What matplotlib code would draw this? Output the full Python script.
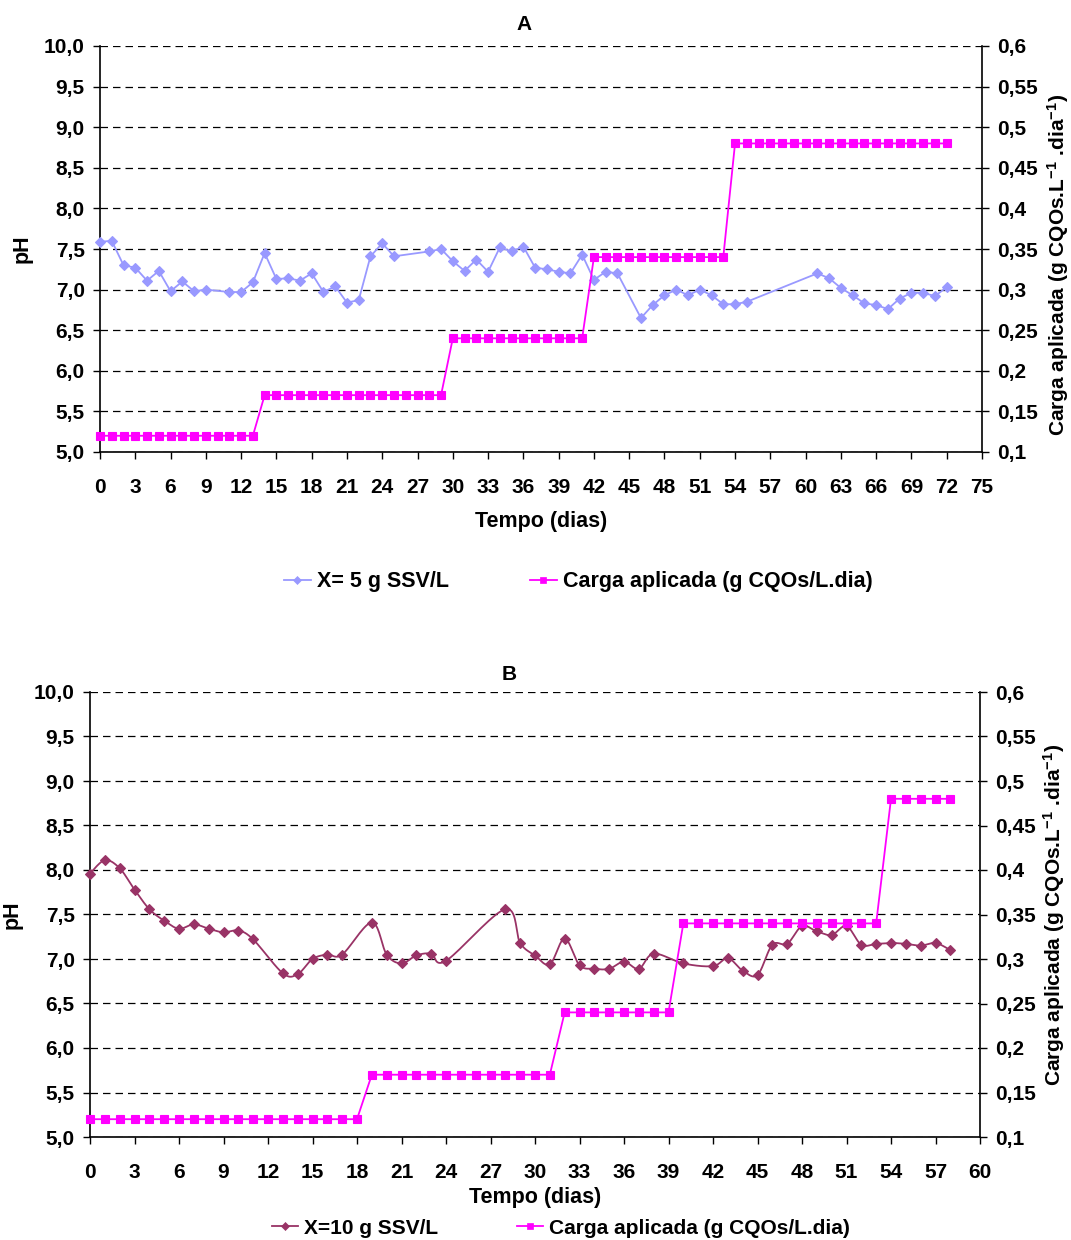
import numpy as np
import matplotlib
matplotlib.use("Agg")
import matplotlib.pyplot as plt
from matplotlib.lines import Line2D

plt.rcParams['font.family'] = ['Liberation Sans', 'DejaVu Sans']
plt.rcParams['font.weight'] = 'bold'
plt.rcParams['axes.labelweight'] = 'bold'
plt.rcParams['font.size'] = 15
plt.rcParams['mathtext.fontset'] = 'custom'
plt.rcParams['mathtext.rm'] = 'Liberation Sans:bold'
plt.rcParams['mathtext.bf'] = 'Liberation Sans:bold'
plt.rcParams['mathtext.it'] = 'Liberation Sans:bold'

# --- Painel A: X = 5 g SSV/L ---
dias_a = [0, 1, 2, 3, 4, 5, 6, 7, 8, 9,
          11, 12, 13, 14, 15, 16, 17, 18, 19, 20, 21, 22, 23, 24, 25,
          28, 29, 30, 31, 32, 33, 34, 35, 36, 37, 38, 39, 40, 41, 42, 43, 44,
          46, 47, 48, 49, 50, 51, 52, 53, 54, 55,
          61, 62, 63, 64, 65, 66, 67, 68, 69, 70, 71, 72]
ph_a = [7.59, 7.60, 7.30, 7.27, 7.11, 7.23, 6.98, 7.10, 6.98, 7.00,
        6.97, 6.97, 7.09, 7.45, 7.13, 7.14, 7.11, 7.20, 6.97, 7.04, 6.84, 6.87, 7.41, 7.57, 7.41,
        7.47, 7.50, 7.35, 7.23, 7.37, 7.22, 7.52, 7.47, 7.53, 7.27, 7.25, 7.22, 7.20, 7.43, 7.12, 7.22, 7.20,
        6.65, 6.81, 6.93, 7.00, 6.93, 7.00, 6.93, 6.82, 6.82, 6.85,
        7.20, 7.14, 7.02, 6.93, 6.83, 6.81, 6.76, 6.89, 6.96, 6.96, 6.92, 7.03]
dias_carga_a = list(range(0, 73))
carga_a = [0.12, 0.12, 0.12, 0.12, 0.12, 0.12, 0.12, 0.12, 0.12, 0.12, 0.12, 0.12, 0.12, 0.12,
           0.17, 0.17, 0.17, 0.17, 0.17, 0.17, 0.17, 0.17, 0.17, 0.17, 0.17, 0.17, 0.17, 0.17, 0.17, 0.17,
           0.24, 0.24, 0.24, 0.24, 0.24, 0.24, 0.24, 0.24, 0.24, 0.24, 0.24, 0.24,
           0.34, 0.34, 0.34, 0.34, 0.34, 0.34, 0.34, 0.34, 0.34, 0.34, 0.34, 0.34,
           0.48, 0.48, 0.48, 0.48, 0.48, 0.48, 0.48, 0.48, 0.48, 0.48, 0.48, 0.48, 0.48, 0.48, 0.48,
           0.48, 0.48, 0.48, 0.48]

# --- Painel B: X = 10 g SSV/L ---
dias_b = [0, 1, 2, 3, 4, 5, 6, 7, 8, 9, 10, 11,
          13, 14, 15, 16, 17,
          19, 20, 21, 22, 23, 24,
          28, 29, 30, 31, 32, 33, 34, 35, 36, 37, 38,
          40,
          42, 43, 44, 45, 46, 47, 48, 49, 50, 51, 52, 53, 54, 55, 56, 57, 58]
ph_b = [7.96, 8.11, 8.02, 7.78, 7.56, 7.43, 7.34, 7.39, 7.34, 7.30, 7.32, 7.22,
        6.84, 6.83, 7.00, 7.05, 7.05,
        7.41, 7.05, 6.95, 7.04, 7.06, 6.98,
        7.56, 7.18, 7.04, 6.94, 7.23, 6.93, 6.89, 6.89, 6.97, 6.89, 7.06,
        6.95,
        6.92, 7.01, 6.87, 6.82, 7.16, 7.17, 7.37, 7.31, 7.27, 7.37, 7.16, 7.17, 7.18, 7.17, 7.15, 7.18, 7.10]
dias_carga_b = list(range(0, 59))
carga_b = [0.12, 0.12, 0.12, 0.12, 0.12, 0.12, 0.12, 0.12, 0.12, 0.12,
           0.12, 0.12, 0.12, 0.12, 0.12, 0.12, 0.12, 0.12, 0.12,
           0.17, 0.17, 0.17, 0.17, 0.17, 0.17, 0.17, 0.17, 0.17, 0.17, 0.17, 0.17, 0.17,
           0.24, 0.24, 0.24, 0.24, 0.24, 0.24, 0.24, 0.24,
           0.34, 0.34, 0.34, 0.34, 0.34, 0.34, 0.34, 0.34, 0.34, 0.34, 0.34, 0.34, 0.34, 0.34,
           0.48, 0.48, 0.48, 0.48, 0.48]

ph_ticks = [5.0, 5.5, 6.0, 6.5, 7.0, 7.5, 8.0, 8.5, 9.0, 9.5, 10.0]
ph_labels = ['5,0', '5,5', '6,0', '6,5', '7,0', '7,5', '8,0', '8,5', '9,0', '9,5', '10,0']
carga_ticks = [0.1, 0.15, 0.2, 0.25, 0.3, 0.35, 0.4, 0.45, 0.5, 0.55, 0.6]
carga_labels = ['0,1', '0,15', '0,2', '0,25', '0,3', '0,35', '0,4', '0,45', '0,5', '0,55', '0,6']

LABEL_DIR = r'Carga aplicada (g CQOs.L$^{-1}$ .dia$^{-1}$)'
MAGENTA = '#FF00FF'


def suavizar(x, y, n=20):
    # curva suavizada estilo Excel (Bezier com tangentes Catmull-Rom)
    p = np.column_stack([x, y]).astype(float)
    out = [p[0]]
    t = np.linspace(0, 1, n)[1:, None]
    for i in range(len(p) - 1):
        p0 = p[i - 1] if i > 0 else p[i]
        p1, p2 = p[i], p[i + 1]
        p3 = p[i + 2] if i + 2 < len(p) else p[i + 1]
        c1 = p1 + (p2 - p0) / 6
        c2 = p2 - (p3 - p1) / 6
        seg = ((1 - t) ** 3) * p1 + 3 * ((1 - t) ** 2) * t * c1 + 3 * (1 - t) * t ** 2 * c2 + t ** 3 * p2
        out.extend(seg)
    out = np.array(out)
    return out[:, 0], out[:, 1]


def painel(rect, dias, ph, dias_c, carga, xmax, cor, suave, titulo, tx, ty, lab_x, lab_y):
    ax = fig.add_axes(rect)
    ax2 = ax.twinx()

    if suave:
        xs, ys = suavizar(dias, ph)
        ax.plot(xs, ys, color=cor, lw=1.3, clip_on=False, zorder=3)
    ax.plot(dias, ph, color=cor, lw=0 if suave else 1.3, marker='D', ms=5.5, mew=0.8,
            clip_on=False, zorder=4)
    ax2.plot(dias_c, carga, color=MAGENTA, lw=1.3, marker='s', ms=6, mew=0.8, clip_on=False)

    ax.set_xlim(0, xmax)
    ax.set_ylim(5, 10)
    ax2.set_ylim(0.1, 0.6)
    ax.set_xticks(np.arange(0, xmax + 1, 3))
    ax.set_yticks(ph_ticks)
    ax.set_yticklabels(ph_labels)
    ax2.set_yticks(carga_ticks)
    ax2.set_yticklabels(carga_labels)

    ax.spines['top'].set_visible(False)
    ax2.spines['top'].set_visible(False)
    ax2.spines['left'].set_visible(False)
    ax2.spines['bottom'].set_visible(False)
    ax.spines['right'].set_visible(False)
    for sp in ax.spines.values():
        sp.set_linewidth(1.2)
    ax2.spines['right'].set_linewidth(1.2)

    ax.grid(axis='y', color='black', ls=(0, (6, 4)), lw=0.9)
    ax.set_axisbelow(True)
    ax.tick_params(axis='x', length=5, width=1, pad=14)
    ax.tick_params(axis='y', length=5, width=1, pad=6)
    ax2.tick_params(axis='y', length=5, width=1, pad=6)

    ax.set_ylabel('pH', fontsize=15.5, labelpad=8)
    ax2.set_ylabel(LABEL_DIR, fontsize=15)
    ax2.yaxis.set_label_coords(lab_x, lab_y)
    ax.set_xlabel('Tempo (dias)', fontsize=15.5)
    fig.text(tx, ty, titulo, ha='center', va='center', fontsize=15)
    return ax, ax2


fig = plt.figure(figsize=(10.71, 12.40), dpi=100)
W, H = 1071, 1240

axA, axA2 = painel([100 / W, 1 - 452 / H, 882 / W, 406 / H],
                   dias_a, ph_a, dias_carga_a, carga_a, 75, '#9999FF', False,
                   'A', 524 / W, 1 - 25 / H, (1045 - 100) / 882, 0.46)
axB, axB2 = painel([90 / W, 1 - 1137 / H, 890 / W, 445 / H],
                   dias_b, ph_b, dias_carga_b, carga_b, 60, '#993366', True,
                   'B', 509 / W, 1 - 675 / H, (1041 - 90) / 890, 0.5)
axA.xaxis.labelpad = 10
axB.xaxis.labelpad = 3

hA = [Line2D([], [], color='#9999FF', lw=1.3, marker='D', ms=4.5, mew=0.5),
      Line2D([], [], color=MAGENTA, lw=1.3, marker='s', ms=5, mew=0.5)]
fig.legend(hA, ['X= 5 g SSV/L', 'Carga aplicada (g CQOs/L.dia)'],
           loc='center left', bbox_to_anchor=(284 / W, 1 - 582 / H), ncol=2, frameon=False,
           fontsize=15.5, handlelength=1.25, handletextpad=0.28, columnspacing=3.75,
           borderpad=0, borderaxespad=0)
hB = [Line2D([], [], color='#993366', lw=1.3, marker='D', ms=4.5, mew=0.5),
      Line2D([], [], color=MAGENTA, lw=1.3, marker='s', ms=5, mew=0.5)]
fig.legend(hB, ['X=10 g SSV/L', 'Carga aplicada (g CQOs/L.dia)'],
           loc='center left', bbox_to_anchor=(272 / W, 1 - 1228 / H), ncol=2, frameon=False,
           fontsize=15, handlelength=1.25, handletextpad=0.28, columnspacing=3.8,
           borderpad=0, borderaxespad=0)

fig.savefig('out.png', dpi=100)
